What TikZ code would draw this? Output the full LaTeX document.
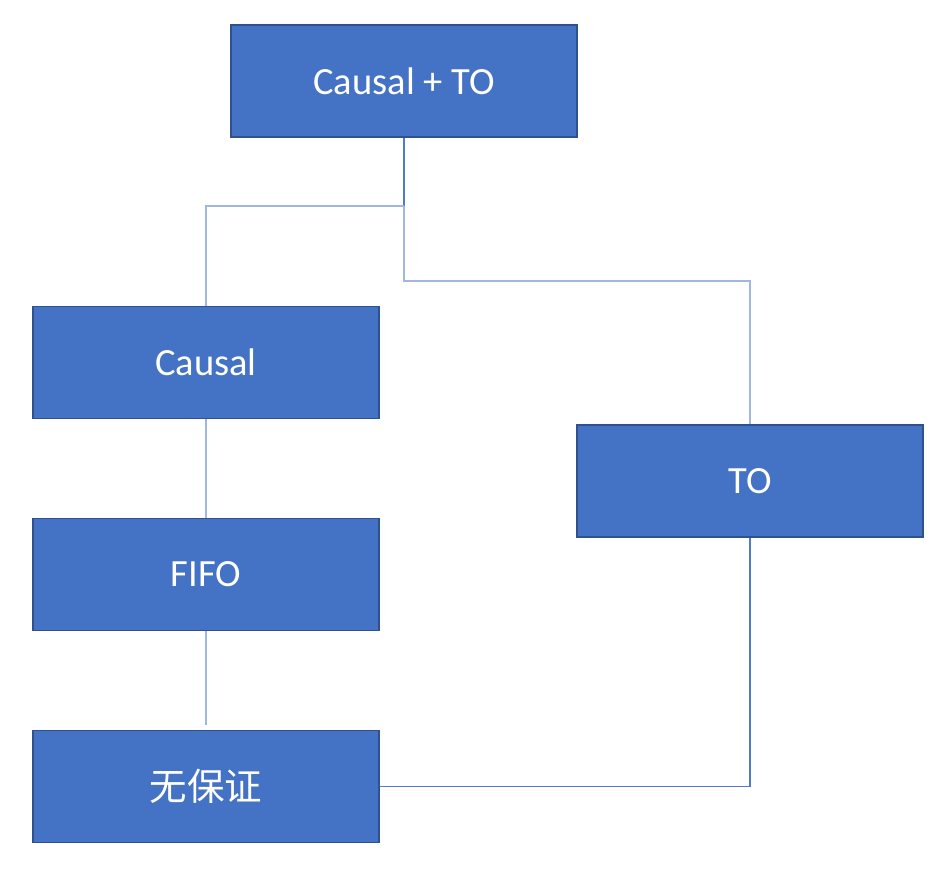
\documentclass[tikz,border=0pt]{standalone}
\usepackage{fontspec}
\setmainfont{Carlito}
\newfontfamily\cjk{Noto Sans CJK SC}
\definecolor{boxfill}{HTML}{4472C4}
\definecolor{boxline}{HTML}{2F528F}
\definecolor{linkdark}{HTML}{4F7BC9}
\definecolor{linklight}{HTML}{9FB7E1}
\tikzset{
  levelbox/.style={draw=boxline, line width=1.5pt, fill=boxfill, text=white,
    minimum width=346pt, minimum height=112pt, inner sep=0pt,
    font=\fontsize{38.5}{44}\selectfont},
  linkd/.style={draw=linkdark, line width=1.2pt},
  linkl/.style={draw=linklight, line width=1.5pt}
}
\begin{document}
\begin{tikzpicture}[x=1pt, y=-1pt]
            \useasboundingbox (0,0) rectangle (938,878);
            \node[levelbox] (ct) at (404,81) {Causal + TO};
            \node[levelbox] (causal) at (206,362.5) {Causal};
            \node[levelbox] (fifo) at (206,574.5) {FIFO};
            \node[levelbox] (none) at (206,786.5) {\cjk\fontsize{37.5}{44}\selectfont 无保证};
            \node[levelbox] (to) at (750,481) {TO};
            \coordinate (split) at (404,206);
            \coordinate (bend) at (404,281);
            \coordinate (gapend) at (206,725);
            \draw [linkd] (ct.south) -- (split);
            \draw [linkl] (split) -| (causal.north);
            \draw [linkl] (split) -- (bend) -| (to.north);
            \draw [linkl] (causal.south) -- (fifo.north);
            \draw [linkl] (fifo.south) -- (gapend);
            \draw [linkd] (to.south) |- (none.east);
        \end{tikzpicture}
\end{document}
